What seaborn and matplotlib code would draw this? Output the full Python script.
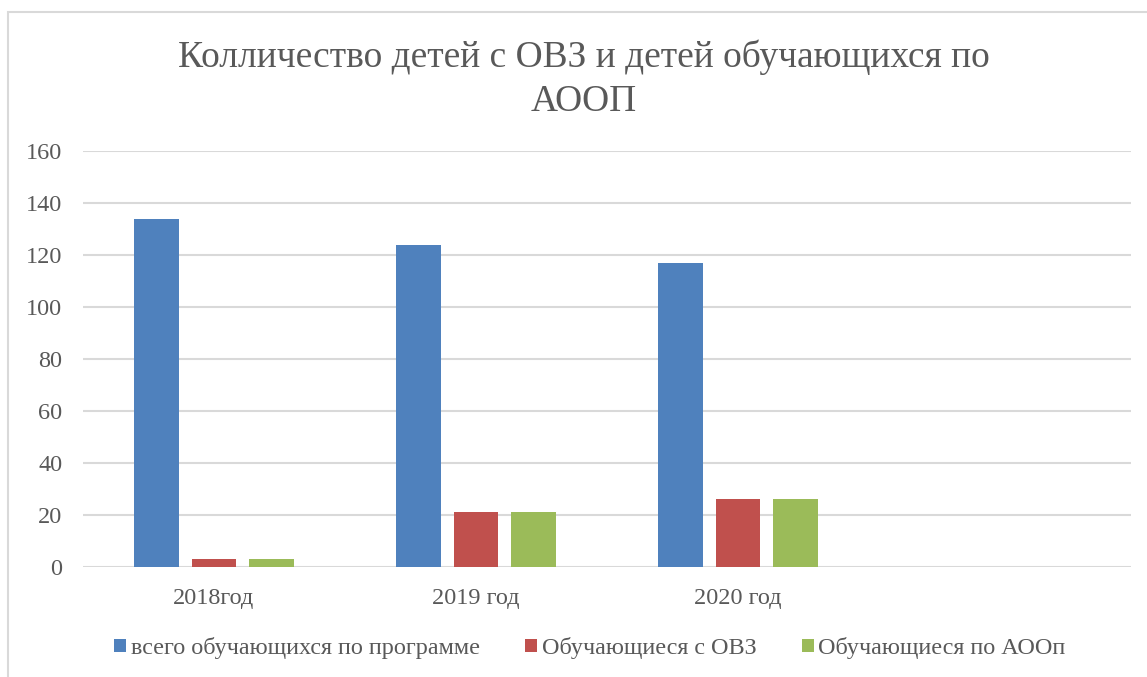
import pandas as pd
import numpy as np
import matplotlib.pyplot as plt
import seaborn as sns
from matplotlib.patches import Rectangle

# --------------------------------------------------
# Data
# --------------------------------------------------

years = ['2018год', '2019 год', '2020 год']
total = [134, 124, 117]
ovz = [3, 21, 26]
aoop = [3, 21, 26]
series_names = ['всего обучающихся по программе', 'Обучающиеся с ОВЗ', 'Обучающиеся по АООп']
colors = ['#4F81BD', '#C0504D', '#9BBB59']

df = pd.DataFrame({
    'Год': years * 3,
    'Значение': total + ovz + aoop,
    'Серия': [s for s in series_names for _ in years]
})

# --------------------------------------------------
# Plot
# --------------------------------------------------

sns.set_theme(style='white')
plt.rcParams['font.family'] = ['Liberation Serif', 'DejaVu Serif']
text_color = '#595959'
grid_color = '#D9D9D9'

fig = plt.figure(figsize=(11.47, 6.77), dpi=100)
ax = fig.add_axes([83 / 1147, 1 - 567 / 677, (1131 - 83) / 1147, (567 - 151) / 677])

sns.barplot(
    data=df, x='Год', y='Значение', hue='Серия',
    order=years + [''], hue_order=series_names,
    palette=colors, width=0.658, gap=0.22,
    saturation=1, linewidth=0, ax=ax
)

ax.set_ylim(0, 160)
ax.set_xlim(-0.5, 3.5)
ax.set_yticks(np.arange(0, 161, 20))
ax.yaxis.grid(True, color=grid_color, linewidth=1.5)
ax.set_axisbelow(True)
for s in ax.spines.values():
    s.set_visible(False)
ax.tick_params(axis='both', length=0, labelsize=17.5, colors=text_color)
ax.tick_params(axis='y', pad=15)
ax.tick_params(axis='x', pad=15)
ax.set_xlabel('')
ax.set_ylabel('')

fig.text(584 / 1147, 1 - 79 / 677,
         'Колличество детей с ОВЗ и детей обучающихся по\nАООП',
         ha='center', va='center', fontsize=27, color=text_color, linespacing=1.35)

leg = ax.legend(
    loc='center', bbox_to_anchor=(590 / 1147, 1 - 648 / 677),
    bbox_transform=fig.transFigure, ncol=3, frameon=False,
    fontsize=17.4, handlelength=0.49, handleheight=0.49,
    handletextpad=0.2, columnspacing=1.87, borderaxespad=0
)
for t in leg.get_texts():
    t.set_color(text_color)

# chart border
fig.patches.append(Rectangle((8 / 1147, -0.1), 1.2, 1 - 12 / 677 + 0.1,
                             transform=fig.transFigure, fill=False,
                             edgecolor=grid_color, linewidth=1.5))

fig.savefig('out.png', dpi=100, facecolor='white')
